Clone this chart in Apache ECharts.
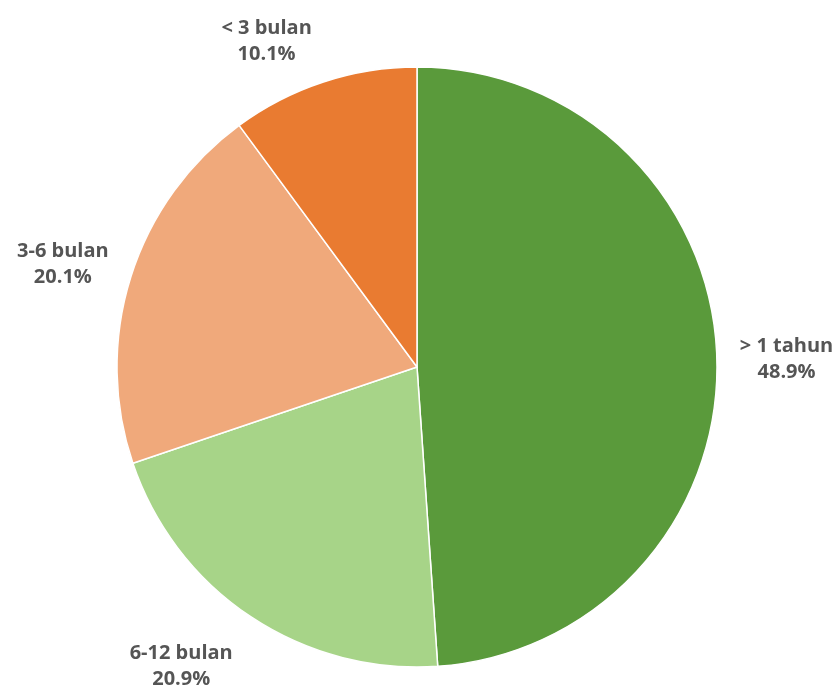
<!DOCTYPE html>
<html><head><meta charset="utf-8">
<script src="https://cdn.jsdelivr.net/npm/echarts@6/dist/echarts.min.js"></script>
<style>html,body{margin:0;padding:0;background:#fff}#c{width:837px;height:685px}</style>
</head><body><div id="c"></div>
<script>
const categories = ['> 1 tahun', '6-12 bulan', '3-6 bulan', '< 3 bulan'];
const values = [48.9, 20.9, 20.1, 10.1];
const colors = ['#5a9a3b', '#a7d488', '#f0a97b', '#e97b31'];
const labelShift = [[0, 3], [-3, 35], [0, -7], [-1, -24]];

const chart = echarts.init(document.getElementById('c'));
chart.setOption({
  animation: false,
  series: [{
    type: 'pie',
    center: [417, 367],
    radius: 300,
    startAngle: 90,
    clockwise: true,
    data: categories.map((n, i) => ({name: n, value: values[i], itemStyle: {color: colors[i]}})),
    itemStyle: {borderColor: '#fff', borderWidth: 1.5},
    label: {
      show: true,
      position: 'outside',
      overflow: 'none',
      formatter: p => p.name + '\n' + p.value.toFixed(1) + '%',
      color: '#555555',
      fontFamily: 'Open Sans',
      fontWeight: 'bold',
      fontSize: 20,
      lineHeight: 26,
      align: 'center'
    },
    labelLine: {show: false, length: 18, length2: 0},
    labelLayout: p => {
      const s = labelShift[p.dataIndex];
      return {x: p.labelRect.x + p.labelRect.width / 2 + s[0], y: p.labelRect.y + p.labelRect.height / 2 + s[1], align: 'center', verticalAlign: 'middle'};
    }
  }]
});
</script></body></html>
